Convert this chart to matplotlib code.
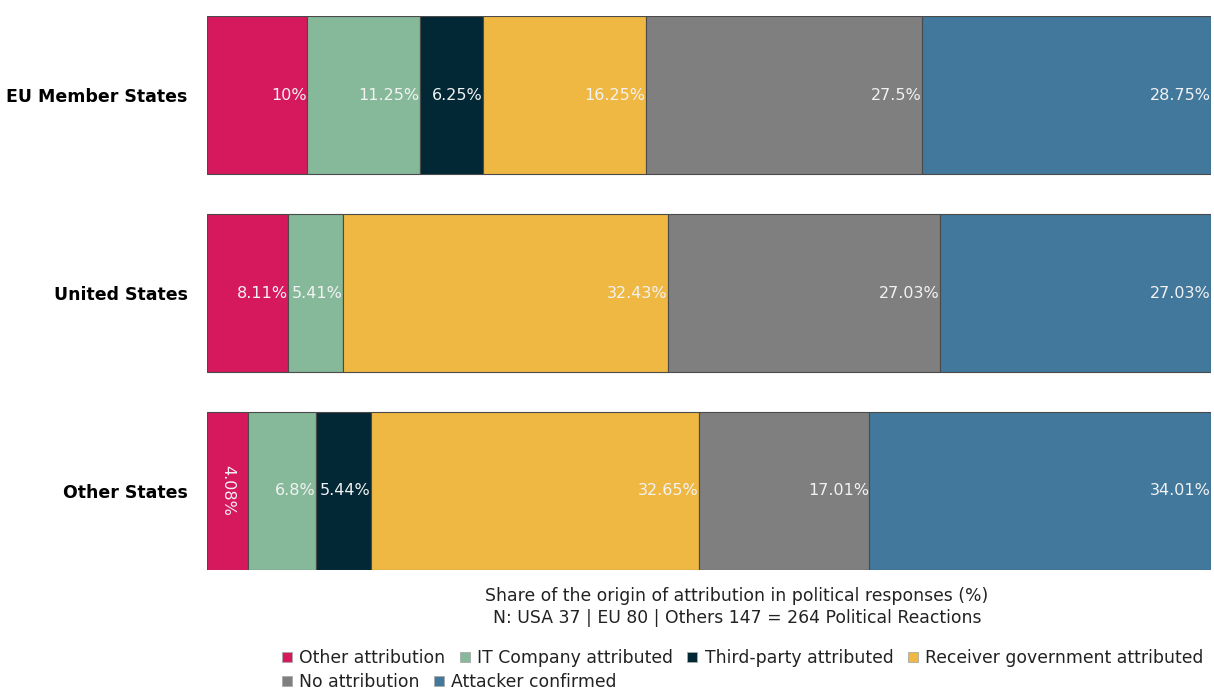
import matplotlib
matplotlib.use("Agg")
import matplotlib.pyplot as plt
from matplotlib.lines import Line2D

categories = ["EU Member States", "United States", "Other States"]
series_names = ["Other attribution", "IT Company attributed", "Third-party attributed",
                "Receiver government attributed", "No attribution", "Attacker confirmed"]
colors = ["#D6195C", "#86B99A", "#022836", "#EFB842", "#7F7F7F", "#41789C"]

other_attr = [10, 8.11, 4.08]
it_company = [11.25, 5.41, 6.8]
third_party = [6.25, 0, 5.44]
receiver_gov = [16.25, 32.43, 32.65]
no_attr = [27.5, 27.03, 17.01]
attacker = [28.75, 27.03, 34.01]
series_values = [other_attr, it_company, third_party, receiver_gov, no_attr, attacker]

xlabel_lines = ["Share of the origin of attribution in political responses (%)",
                "N: USA 37 | EU 80 | Others 147 = 264 Political Reactions"]

fig = plt.figure(figsize=(12.14, 6.91), dpi=100)
ax = fig.add_axes([207/1214, 1-570/691, (1211-207)/1214, (570-16)/691])

ypos = list(range(len(categories)))
left = [0.0]*len(categories)
for name, vals, col in zip(series_names, series_values, colors):
    ax.barh(ypos, vals, left=left, height=0.8, color=col,
            edgecolor="#4a4a4a", linewidth=0.8, label=name)
    for i, v in enumerate(vals):
        if v <= 0:
            continue
        txt = f"{v:g}%"
        end = left[i] + v
        if v < 5:
            ax.text(left[i] + v/2, ypos[i], txt, rotation=270, ha="center", va="center",
                    color="#f2f2f2", fontsize=11.5)
        else:
            ax.text(end - 0.05, ypos[i], txt, ha="right", va="center",
                    color="#f2f2f2", fontsize=11.5)
    left = [l + v for l, v in zip(left, vals)]

ax.set_xlim(0, 100)
ax.set_ylim(2.4, -0.4)
ax.set_yticks(ypos)
ax.set_yticklabels(categories, fontsize=12.5, fontweight="bold")
ax.tick_params(axis="y", length=0, pad=14)
ax.set_xticks([])
for s in ax.spines.values():
    s.set_visible(False)

fig.text(737/1214, 1-596/691, xlabel_lines[0], ha="center", va="center", fontsize=12.4, color="#222222")
fig.text(737/1214, 1-618/691, xlabel_lines[1], ha="center", va="center", fontsize=12.4, color="#222222")

def handles_for(idx):
    return [Line2D([0], [0], marker="s", linestyle="none", markersize=7,
                   markerfacecolor=colors[i], markeredgecolor="#aaaaaa", markeredgewidth=0.6)
            for i in idx]

row1 = [0, 1, 2, 3]
row2 = [4, 5]
for idx, yy in [(row1, 658), (row2, 682)]:
    leg = fig.legend(handles_for(idx), [series_names[i] for i in idx], ncol=len(idx),
                     loc="center left", bbox_to_anchor=(278/1214, 1-yy/691),
                     frameon=False, fontsize=12.4, handletextpad=0.2, columnspacing=0.65,
                     handlelength=1.0, borderpad=0, borderaxespad=0)
    for t in leg.get_texts():
        t.set_color("#222222")

fig.savefig("out.png", dpi=100)
